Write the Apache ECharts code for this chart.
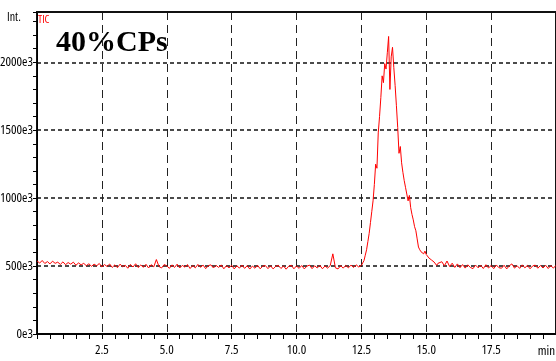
<!DOCTYPE html>
<html>
<head>
<meta charset="utf-8">
<script src="https://cdn.jsdelivr.net/npm/echarts@6/dist/echarts.min.js"></script>
<style>html,body{margin:0;padding:0;background:#fff}#c{width:556px;height:361px}</style>
</head>
<body>
<div id="c"></div>
<script>
// retention time (min)
const times = [
0.0,0.1,0.2,0.3,0.4,0.5,0.6,0.7,0.8,0.9,
1.0,1.1,1.2,1.3,1.4,1.5,1.6,1.7,1.8,1.9,
2.0,2.1,2.2,2.3,2.4,2.5,2.6,2.7,2.8,2.9,
3.0,3.1,3.2,3.3,3.4,3.5,3.6,3.7,3.8,3.9,
4.0,4.1,4.2,4.3,4.4,4.5,4.6,4.7,4.8,4.9,
5.0,5.1,5.2,5.3,5.4,5.5,5.6,5.7,5.8,5.9,
6.0,6.1,6.2,6.3,6.4,6.5,6.6,6.7,6.8,6.9,
7.0,7.1,7.2,7.3,7.4,7.5,7.6,7.7,7.8,7.9,
8.0,8.1,8.2,8.3,8.4,8.5,8.6,8.7,8.8,8.9,
9.0,9.1,9.2,9.3,9.4,9.5,9.6,9.7,9.8,9.9,
10.0,10.1,10.2,10.3,10.4,10.5,10.6,10.7,10.8,10.9,
11.0,11.1,11.2,11.3,11.4,11.5,11.6,11.7,11.8,11.9,
12.0,12.1,12.2,12.3,12.4,
12.5,12.55,12.6,12.65,12.7,12.75,12.8,12.85,12.9,12.95,
13.0,13.05,13.1,13.15,13.2,13.25,13.3,13.35,13.4,13.45,
13.5,13.55,13.6,13.65,13.7,13.75,13.8,13.85,13.9,13.95,
14.0,14.05,14.1,14.15,14.2,14.25,14.3,14.35,14.4,14.45,
14.5,14.55,14.6,14.65,14.7,14.75,14.8,14.85,14.9,14.95,
15.0,15.05,15.1,15.15,15.2,15.25,15.3,15.35,15.4,15.45,
15.5,15.6,15.7,15.8,15.9,16.0,16.1,16.2,16.3,16.4,
16.5,16.6,16.7,16.8,16.9,17.0,17.1,17.2,17.3,17.4,
17.5,17.6,17.7,17.8,17.9,18.0,18.1,18.2,18.3,18.4,
18.5,18.6,18.7,18.8,18.9,19.0,19.1,19.2,19.3,19.4,
19.5,19.6,19.7,19.8,19.9,20.0
];
// TIC intensity (x1000)
const intensity = [
538,522,541,519,533,516,536,520,529,512,
531,510,526,514,529,506,523,509,520,503,
517,498,514,502,519,494,511,497,515,490,
509,488,514,495,506,484,512,493,517,489,
508,491,513,486,510,494,548,497,486,511,
502,483,509,490,514,486,505,492,511,482,
504,487,512,491,507,481,503,509,486,505,
490,508,480,503,487,506,479,502,485,507,
483,503,478,500,484,506,480,499,504,481,
502,479,498,505,482,501,477,499,506,480,
501,483,504,479,499,507,481,502,486,505,
480,501,485,504,590,487,479,503,485,505,
487,507,490,509,493,
505,512,540,580,620,680,740,820,900,980,
1100,1250,1220,1480,1600,1740,1900,1850,1990,1950,
2070,2190,1800,2040,2110,1960,1830,1680,1520,1330,
1380,1260,1190,1130,1080,1030,980,1020,930,880,
840,790,760,700,640,620,605,615,590,610,
585,575,560,570,545,555,530,540,505,520,
518,532,502,537,497,521,490,516,488,511,
485,509,490,481,507,487,505,482,510,486,
504,481,508,488,484,506,479,502,516,485,
503,483,509,487,505,480,501,507,484,504,
486,506,482,503,485,505
];
const yTicks = [0, 500, 1000, 1500, 2000];
const xTicks = [2.5, 5.0, 7.5, 10.0, 12.5, 15.0, 17.5];
const yMax = 2370;

const FAM = '"Open Sans"';
const chart = echarts.init(document.getElementById('c'), null, {renderer: 'canvas'});
chart.setOption({
  animation: false,
  backgroundColor: '#fff',
  grid: {left: 37, top: 12, right: 0, bottom: 27, containLabel: false, outerBoundsMode: 'none',
    show: true, borderColor: '#111', borderWidth: 2, backgroundColor: 'transparent'},
  xAxis: {
    type: 'value', min: 0, max: 20, interval: 2.5,
    axisLine: {show: true, lineStyle: {color: '#000', width: 1.5}},
    axisTick: {show: true, inside: false, length: 5, lineStyle: {color: '#000'}},
    minorTick: {show: true, splitNumber: 5, length: 5, lineStyle: {color: '#000'}},
    axisLabel: {
      margin: 10, color: '#000', fontFamily: FAM, fontStyle: 'condensed', fontSize: 13,
      formatter: v => xTicks.some(t => Math.abs(t - v) < 1e-6) ? v.toFixed(1) : ''
    },
    splitLine: {show: true, showMinLine: false, showMaxLine: false,
      lineStyle: {color: '#222', width: 1, type: [8, 5]}}
  },
  yAxis: [{
    type: 'value', min: 0, max: yMax, interval: 500,
    axisLine: {show: true, lineStyle: {color: '#000', width: 1}},
    axisTick: {show: true, length: 4, lineStyle: {color: '#000'}},
    axisLabel: {
      margin: 4, color: '#000', fontFamily: FAM, fontStyle: 'condensed', fontSize: 13,
      formatter: v => yTicks.indexOf(v) >= 0 ? v + 'e3' : ''
    },
    splitLine: {show: true, showMinLine: false, showMaxLine: false,
      lineStyle: {color: '#111', width: 1.6, type: [4, 3]}}
  }, {
    type: 'value', min: 0, max: yMax, interval: 100, position: 'left',
    axisLine: {show: false},
    axisTick: {show: true, length: 4, lineStyle: {color: '#000'}},
    axisLabel: {show: false}, splitLine: {show: false}
  }],
  graphic: [
    {type: 'text', left: 7, top: 12, style: {text: 'Int.', fill: '#000', font: 'condensed normal 12px "Open Sans"'}},
    {type: 'text', left: 38, top: 14, style: {text: 'TIC', fill: '#ff0000', font: 'condensed normal 11px "Open Sans"'}},
    {type: 'text', left: 56, top: 28, style: {text: '40%CPs', fill: '#000', font: 'bold 30px "Liberation Serif","DejaVu Serif",serif'}},
    {type: 'text', right: 1, top: 345, style: {text: 'min', fill: '#000', font: 'condensed normal 13px "Open Sans"'}}
  ],
  series: [{
    type: 'line', xAxisIndex: 0, yAxisIndex: 0,
    data: times.map((t, i) => [t, intensity[i]]),
    showSymbol: false, symbol: 'none', smooth: false,
    lineStyle: {color: '#ff0000', width: 1},
    markLine: {
      silent: true, symbol: 'none', animation: false,
      label: {show: false},
      lineStyle: {color: '#111', type: 'solid', width: 2},
      data: [{yAxis: yMax}]
    }
  }]
});
</script>
</body>
</html>
